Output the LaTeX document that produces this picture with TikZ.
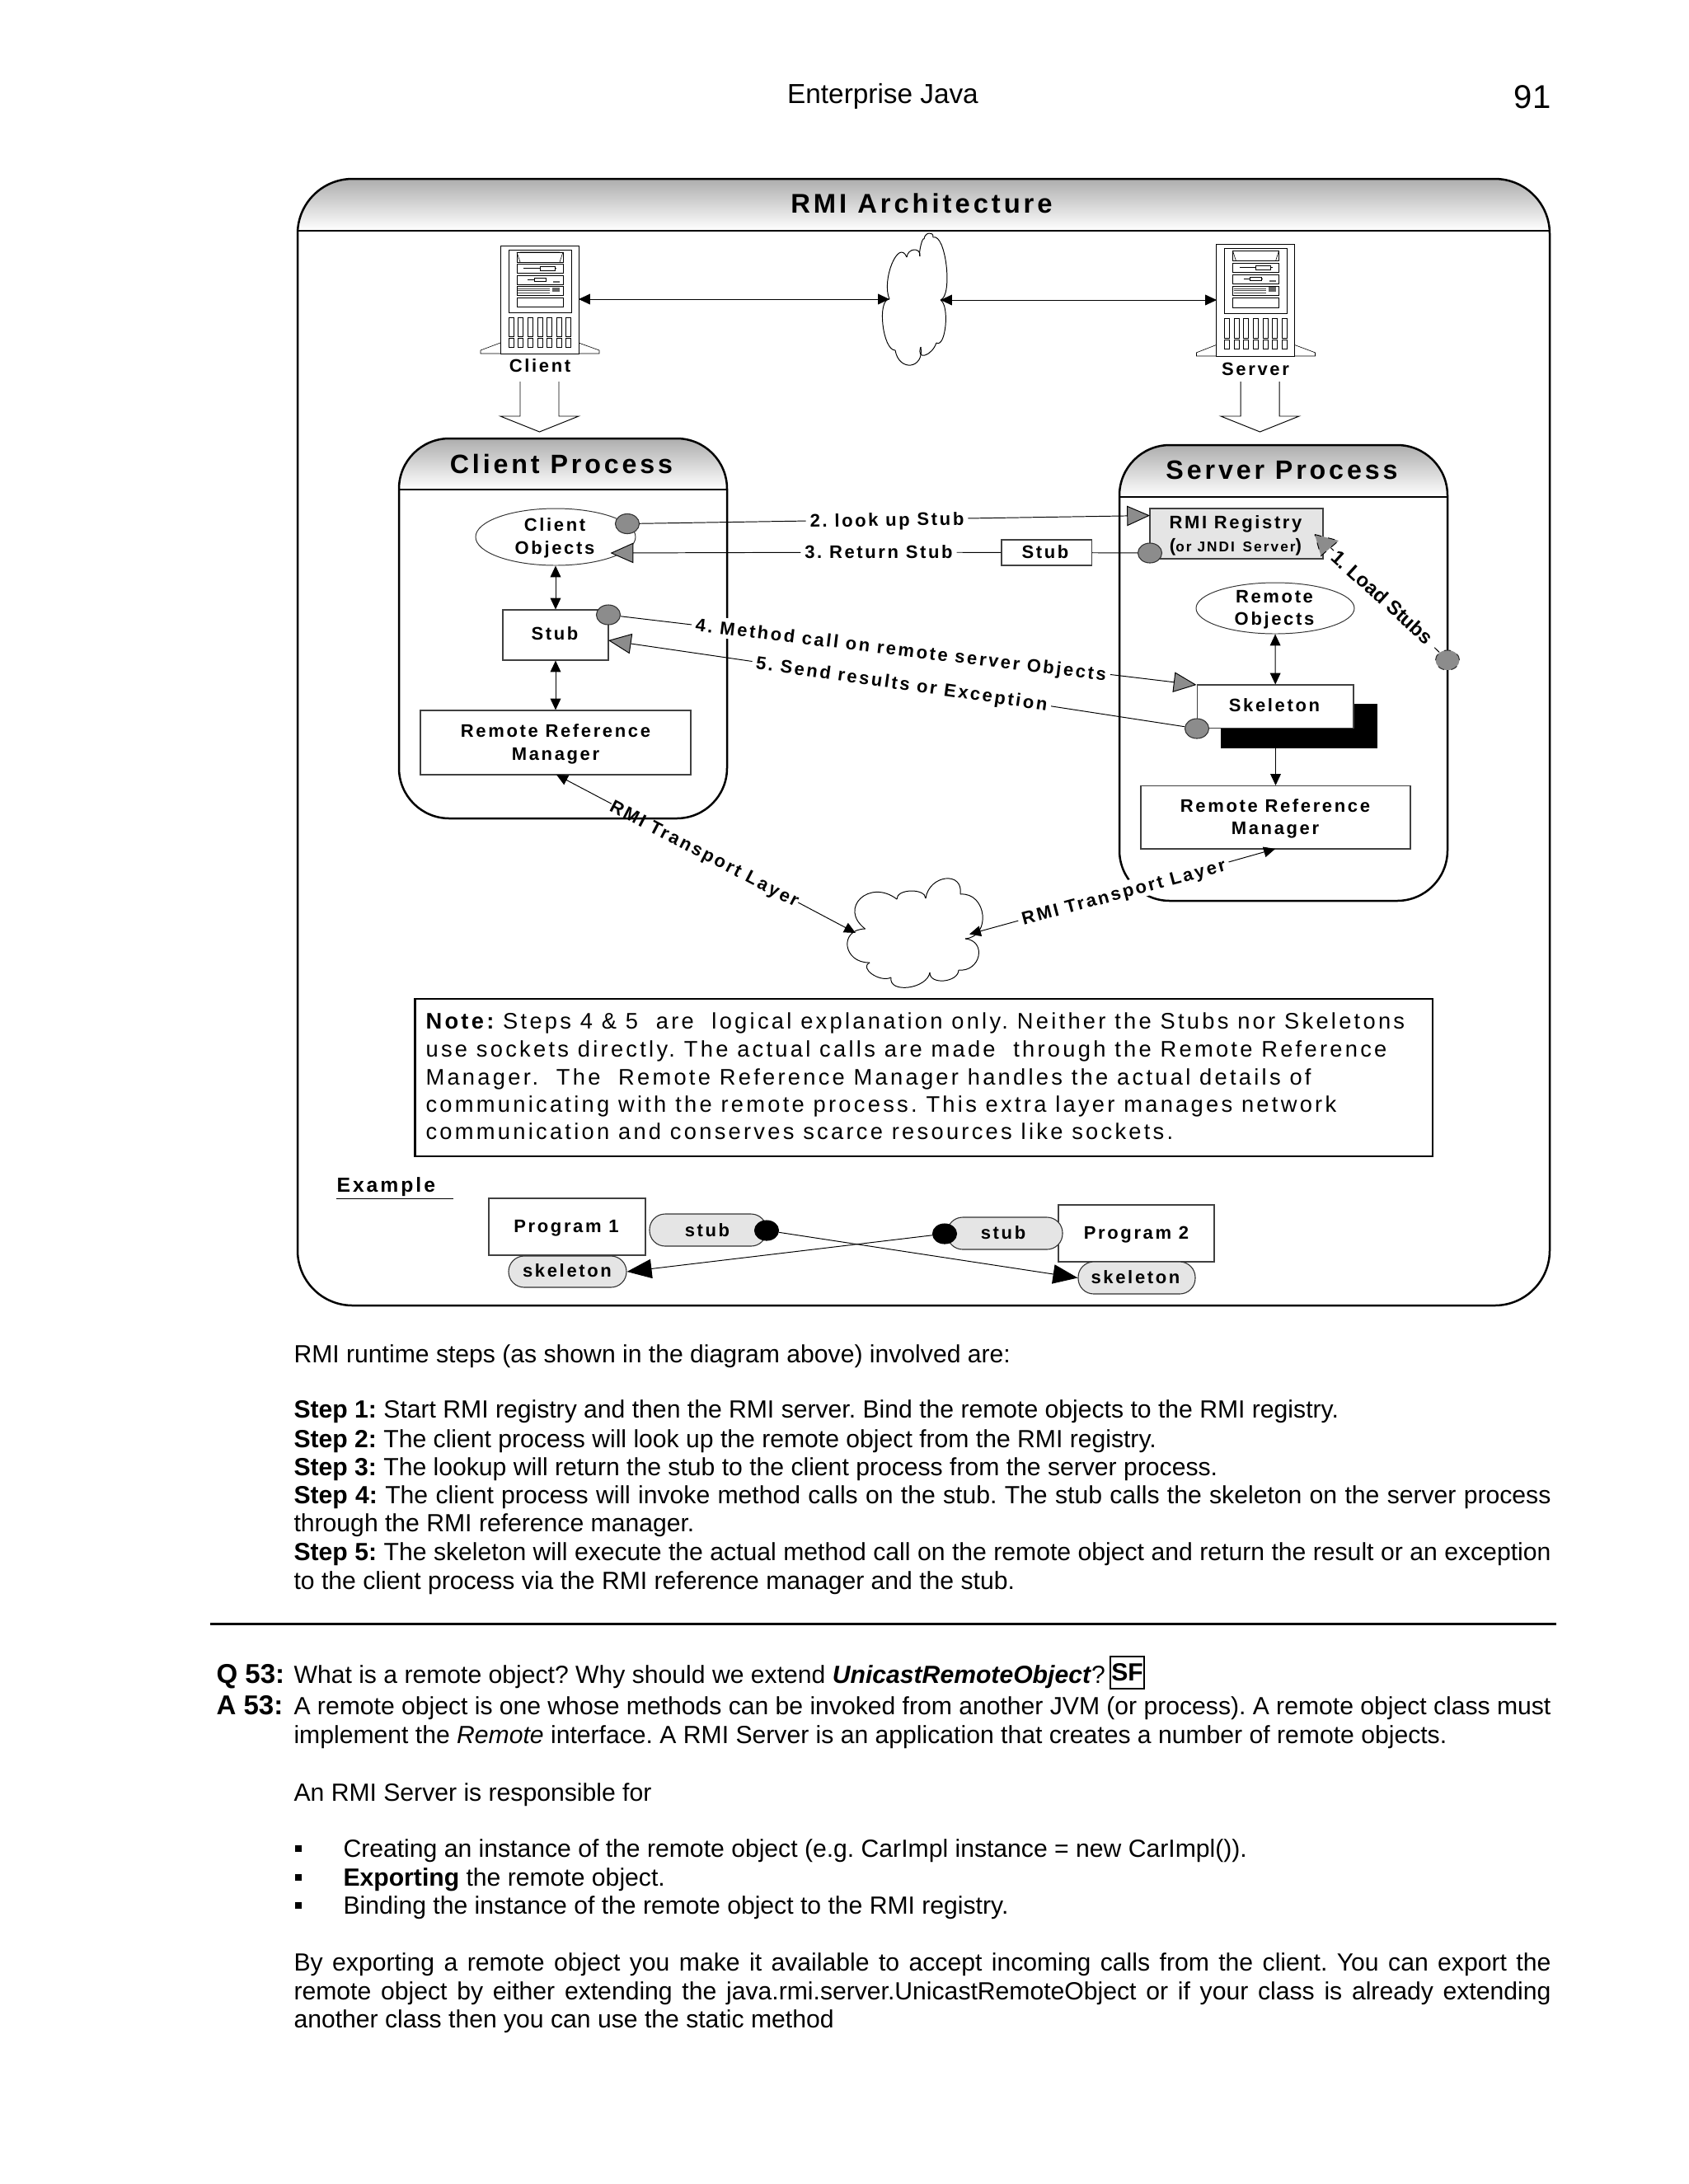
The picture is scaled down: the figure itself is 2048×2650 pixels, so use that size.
\documentclass[tikz,border=0pt]{standalone}
\usepackage{fontspec}
\setmainfont{Liberation Sans}
\newfontfamily\lsfont[LetterSpace=12]{Liberation Sans}
\newfontfamily\notefont[LetterSpace=12]{Liberation Sans}
\usetikzlibrary{arrows.meta,shapes.geometric,calc}
\definecolor{hdr}{gray}{0.68}
\definecolor{midg}{gray}{0.55}
\definecolor{lightg}{gray}{0.90}
\def\upx{0.36pt}
\tikzset{
  frame/.style={line width=0.9pt,draw=black},
  thinl/.style={line width=0.35pt,draw=black},
  hair/.style={line width=0.22pt,draw=black},
  blk/.tip={Triangle[length=5pt,width=4.6pt]},
  gtri/.tip={Triangle[length=10pt,width=8.8pt,fill=midg]},
  kt/.tip={Triangle[length=10.8pt,width=8.4pt]},
  lbl/.style={font=\lsfont\bfseries\fontsize{7.92pt}{9pt}\selectfont,inner sep=0pt,text height=5.7pt,text depth=0pt,align=center},
  bigl/.style={font=\lsfont\bfseries\fontsize{11.6pt}{13pt}\selectfont,inner sep=0pt,text height=8.3pt,text depth=0pt},
  wlbl/.style={lbl,fill=white,inner sep=1.6pt},
  bxs/.style={rectangle,draw=black!75,line width=0.4pt,inner sep=0pt,fill=white},
  ell/.style={ellipse,draw=black!80,line width=0.35pt,inner sep=0pt,fill=white},
  gdot/.style={ellipse,draw=black!80,line width=0.4pt,inner sep=0pt,fill=midg,minimum width=29*\upx,minimum height=24*\upx},
  kdot/.style={ellipse,draw=black,fill=black,inner sep=0pt,minimum width=29*\upx,minimum height=24*\upx},
  pill/.style={rectangle,rounded corners=6.8pt,draw=black!80,line width=0.4pt,inner sep=0pt,fill=lightg},
  body/.style={font=\fontsize{10.85pt}{12pt}\selectfont,inner sep=0pt,anchor=base west},
  big/.style={font=\fontsize{11.9pt}{13pt}\selectfont\bfseries,inner sep=0pt,anchor=base west},
  notel/.style={font=\notefont\fontsize{9.82pt}{12pt}\selectfont,inner sep=0pt,anchor=base west},
}
\newcommand\bx[6]{% name,x1,y1,x2,y2,style
  \pgfmathsetmacro\cxx{(#2+#4)/2}\pgfmathsetmacro\cyy{(#3+#5)/2}
  \pgfmathsetmacro\ww{(#4-#2)*0.36}\pgfmathsetmacro\hh{(#5-#3)*0.36}
  \node[#6,minimum width=\ww pt,minimum height=\hh pt] (#1) at (\cxx,\cyy) {};}
\newcommand\panel[6]{% x1,y1,ymid,x2,y2,radius
  \begin{scope}
    \clip[rounded corners=#6] (#1,#2) rectangle (#4,#5);
    \shade[top color=hdr,bottom color=white] (#1,#2) rectangle (#4,#3);
  \end{scope}
  \draw[frame,rounded corners=#6] (#1,#2) rectangle (#4,#5);
  \draw[frame] (#1,#3) -- (#4,#3);}
\newcommand\cloud[1]{\foreach \ax/\ay/\px/\py/\bx/\by in {#1}{
  \pgfmathsetmacro\dx{4/3*(\px-(\ax+\bx)/2)}
  \pgfmathsetmacro\dy{4/3*(\py-(\ay+\by)/2)}
  \draw[thinl] (\ax,\ay) .. controls ($(\ax,\ay)+(\dx,\dy)$) and ($(\bx,\by)+(\dx,\dy)$) .. (\bx,\by);}}
\newcommand\tower[3]{% cx, top, yscale
  \begin{scope}[shift={(#1,#2)},yscale=#3,hair]
    \draw (-48,118) -- (-72,127) -- (-72,131) -- (72,131) -- (72,127) -- (47,118);
    \draw[thinl,fill=white] (-48,0) rectangle (47,131);
    \draw (-38,5) rectangle (38,81);
    \draw (-28,8) rectangle (28,20);
    \draw (-28,8) -- (-24,20) (28,8) -- (24,20) (-24,8) -- (24,8);
    \draw (-28,22) rectangle (28,33);
    \draw (-20,27.5) -- (20,27.5);
    \draw[fill=white] (0,25) rectangle (18,30);
    \draw (-28,36) rectangle (28,47);
    \draw (-15,41) -- (8,41);
    \draw[fill=white] (-7,39) rectangle (7,43);
    \fill[black!60] (16,42.5) rectangle (24,44.5);
    \draw (-28,49) rectangle (28,60);
    \foreach \yy in {52,54.5,57} {\draw[black!70] (-27,\yy) -- (12,\yy);}
    \fill[black!60] (15,50.5) rectangle (24,56);
    \draw (-28,63) rectangle (28,74);
    \foreach \i in {0,...,6} {
      \draw ({-38+\i*11.6},87) rectangle ({-32+\i*11.6},110);
      \draw ({-38+\i*11.6},112) rectangle ({-32+\i*11.6},123);
    }
  \end{scope}}
\newcommand\blockarrow[6]{% x1 x2 ytop yneck hl hr (tip computed)
  \draw[thinl] (#1,#3) -- (#1,#4) -- (#5,#4) -- ({(#5+#6)/2},{#4+19}) -- (#6,#4) -- (#2,#4) -- (#2,#3);}
\newcommand\jl[3]{\node[body] at (#1,#2) {\makebox[549pt][s]{#3}};}
\newcommand\nl[3]{\node[body] at (#1,#2) {#3};}
\begin{document}
\frenchspacing
\begin{tikzpicture}[x=0.36pt,y=-0.36pt]
\useasboundingbox (0,0) rectangle (2048,2650);
\fill[white] (0,0) rectangle (2048,2650);
% page header
\node[font=\fontsize{12pt}{13pt}\selectfont,inner sep=0pt] (hdrtitle) at (1071,117) {Enterprise Java};
\node[font=\fontsize{14.4pt}{15pt}\selectfont,inner sep=0pt] (pageno) at (1859,118) {91};
% outer
\panel{361}{217}{280}{1880}{1584}{24pt}
\node[font=\lsfont\bfseries\fontsize{11.8pt}{13pt}\selectfont,inner sep=0pt] (maintitle) at (1118,247) {RMI Architecture};
% towers
\tower{655}{298}{1}
\tower{1523.5}{296}{1.038}
\node[lbl] (clientl) at (655,444) {Client};
\node[lbl] (serverl) at (1523,448) {Server};
\blockarrow{631}{678}{463}{505}{607}{702}
\blockarrow{1505}{1552}{463}{505}{1481}{1576}
% cloud 1
\coordinate (cl1w) at (1079,363);
\coordinate (cl1e) at (1141,364);
\coordinate (towc) at (702,363);
\coordinate (tows) at (1476,364);
\cloud{1116/311/1109/303/1100/312, 1100/312/1082/320/1079/363, 1079/363/1071/394/1086/425, 1086/425/1105/443/1117/421, 1117/421/1122/431/1136/416, 1136/416/1147/395/1141/364, 1141/364/1148/322/1132/288, 1132/288/1127/283/1121/290, 1121/290/1117/298/1116/311}
\draw[thinl,{blk}-{blk}] (towc) -- (cl1w);
\draw[thinl,{blk}-{blk}] (cl1e) -- (tows);
% process boxes
\panel{484}{532}{594}{882}{993}{22pt}
\panel{1358}{540}{603}{1756}{1093}{22pt}
\node[bigl] (cpt) at (681,563) {Client Process};
\node[bigl] (spt) at (1555,570) {Server Process};
% client content
\node[ell,minimum width=194*\upx,minimum height=69*\upx] (cobj) at (674,651.5) {};
\node[lbl] (cobj1) at (673,637) {Client};
\node[lbl] (cobj2) at (673,665) {Objects};
\bx{stubc}{610}{740}{738}{801}{bxs}
\node[lbl] (stubcl) at (673,769) {Stub};
\bx{rrmc}{510}{862}{838}{940}{bxs}
\node[lbl] (rrmc1) at (674,887) {Remote Reference};
\node[lbl] (rrmc2) at (674,915) {Manager};
\draw[thinl,{blk}-{blk}] (cobj) -- (stubc);
\draw[thinl,{blk}-{blk}] (stubc) -- (rrmc);
% server content
\bx{rmi}{1395}{617}{1605}{678}{bxs,fill=lightg}
\node[lbl] (rmi1) at (1499,634) {RMI Registry};
\node[lbl,font=\lsfont\bfseries\fontsize{6.2pt}{7pt}\selectfont] (rmi2) at (1499,662) {{\fontsize{8pt}{9pt}\selectfont(}or JNDI\, Server{\fontsize{8pt}{9pt}\selectfont)}};
\node[ell,minimum width=192*\upx,minimum height=62*\upx] (robj) at (1547,738) {};
\node[lbl] (robj1) at (1546,724) {Remote};
\node[lbl] (robj2) at (1546,751) {Objects};
\fill[black] (1481,854) rectangle (1671,908);
\coordinate (shadowb) at (1547.5,908);
\bx{skel}{1452.5}{831}{1642}{883.5}{bxs}
\node[lbl] (skell) at (1546,856) {Skeleton};
\bx{rrms}{1384}{953.5}{1711}{1030}{bxs}
\node[lbl] (rrms1) at (1547,977.6) {Remote Reference};
\node[lbl] (rrms2) at (1547,1005) {Manager};
\draw[thinl,{blk}-{blk}] (robj) -- (skel);
\draw[thinl,-{blk}] (shadowb) -- (rrms);
% connector dots
\node[gdot] (dot2) at (761,635.5) {};
\node[gdot] (dot3) at (1395,671) {};
\node[gdot] (dot4) at (738,746) {};
\node[gdot] (dot5) at (1452,884) {};
\node[gdot,dashed] (dot1) at (1756,801) {};
\coordinate (tip2) at (1395,625.5);
\coordinate (tip3) at (740.5,671);
\coordinate (tip4) at (1451.5,831);
\coordinate (tip5) at (738,777);
\coordinate (tip1) at (1597,648);
% 2
\node[wlbl,rotate=0.9] (l2) at (1076,630.5) {2. look up Stub};
\draw[thinl] (dot2) -- (l2);
\draw[thinl,-{gtri}] (l2) -- (tip2);
% 3
\bx{stubm}{1215}{655}{1324.5}{686}{bxs}
\node[lbl] (stubml) at (1268,670) {Stub};
\node[wlbl] (l3) at (1066,670) {3. Return Stub};
\draw[thinl] (dot3) -- (stubm);
\draw[thinl] (stubm) -- (l3);
\draw[thinl,-{gtri}] (l3) -- (tip3);
% 4
\node[wlbl,rotate=-6.9] (l4) at (1093,788) {4. Method call on remote server Objects};
\draw[thinl] (dot4) -- (l4);
\draw[thinl,-{gtri}] (l4) -- (tip4);
% 5
\node[wlbl,rotate=-8.2] (l5) at (1094,829) {5. Send results or Exception};
\draw[thinl] (dot5) -- (l5);
\draw[thinl,-{gtri}] (l5) -- (tip5);
% 1
\node[font=\bfseries\fontsize{8.6pt}{10pt}\selectfont,inner sep=1pt,fill=white,rotate=-42] (l1) at (1677,724.5) {1. Load Stubs};
\draw[thinl,dashed] (dot1) -- (l1);
\draw[thinl,dashed] (l1) -- (tip1);
\draw[thinl,dashed,fill=midg] (1595,648.5) -- (1624,656) -- (1602.5,674.5) -- cycle;
% cloud 2
\cloud{1049.5/1127/1044/1090/1088/1091, 1088/1091/1105/1081/1123/1090, 1123/1090/1147/1066/1165/1085, 1165/1085/1192/1110/1171/1139, 1171/1139/1187/1160/1163/1177, 1163/1177/1145/1190/1128/1180, 1128/1180/1102/1198/1081/1186, 1081/1186/1058/1182/1055/1168, 1055/1168/1028/1148/1049.5/1127}
\coordinate (cl2w) at (1038,1132);
\coordinate (cl2e) at (1176,1133.5);
\coordinate (rrmcb) at (675,940);
\coordinate (rrmsb) at (1547,1030);
\node[lbl,rotate=-27.5] (tl1) at (855,1035) {RMI Transport Layer};
\draw[thinl,-{blk}] (tl1) -- (rrmcb);
\draw[thinl,-{blk}] (tl1) -- (cl2w);
\node[wlbl,rotate=15] (tl2) at (1363,1082) {RMI Transport Layer};
\draw[thinl,-{blk}] (tl2) -- (cl2e);
\draw[thinl,-{blk}] (tl2) -- (rrmsb);
% note
\node[draw=black,line width=0.9pt,inner sep=0pt,minimum width=1234.4*\upx,minimum height=191*\upx] (notebox) at (1120.8,1307.5) {};
\node[notel] (n1) at (516,1248) {{\bfseries Note:} Steps 4 \& 5\ \ are\ \ logical explanation only. Neither the Stubs nor Skeletons};
\node[notel] (n2) at (516,1282) {use sockets directly. The actual calls are made\ \ through the Remote Reference};
\node[notel] (n3) at (516,1316) {Manager.\ \ The\ \ Remote Reference Manager handles the actual details of};
\node[notel] (n4) at (516,1349) {communicating with the remote process. This extra layer manages network};
\node[notel] (n5) at (516,1382) {communication and conserves scarce resources like sockets.};
% example
\node[lbl,anchor=west,font=\lsfont\bfseries\fontsize{8.9pt}{10pt}\selectfont] (ex) at (408,1439) {Example};
\coordinate (exa) at (408,1454);
\coordinate (exb) at (550,1454);
\draw[thinl] (exa) -- (exb);
\bx{p1}{593}{1454}{783}{1523}{bxs}
\node[lbl] (p1l) at (687,1488) {Program 1};
\bx{p2}{1284}{1462}{1473}{1531}{bxs}
\node[lbl] (p2l) at (1378.5,1496) {Program 2};
\bx{stub1}{788}{1473}{930}{1512}{pill}
\node[lbl] (stub1l) at (858,1493) {stub};
\bx{stub2}{1149}{1477}{1289}{1516}{pill}
\node[lbl] (stub2l) at (1217,1496) {stub};
\bx{sk1}{617}{1524}{760}{1562}{pill}
\node[lbl] (sk1l) at (688,1542) {skeleton};
\bx{sk2}{1308}{1531}{1450}{1570}{pill}
\node[lbl] (sk2l) at (1377.5,1550) {skeleton};
\node[kdot] (kd1) at (930,1493) {};
\node[kdot] (kd2) at (1146,1497) {};
\draw[thinl,-{kt}] (kd1) -- (sk2.west);
\draw[thinl,-{kt}] (kd2) -- (sk1.east);
% body text
\nl{356}{1653}{RMI runtime steps (as shown in the diagram above) involved are:}
\nl{356}{1720}{\textbf{Step 1:} Start RMI registry and then the RMI server. Bind the remote objects to the RMI registry.}
\nl{356}{1756}{\textbf{Step 2:} The client process will look up the remote object from the RMI registry.}
\nl{356}{1790}{\textbf{Step 3:} The lookup will return the stub to the client process from the server process.}
\jl{356}{1824}{\textbf{Step 4:} The client process will invoke method calls on the stub. The stub calls the skeleton on the server process}
\nl{356}{1858}{through the RMI reference manager.}
\jl{356}{1893}{\textbf{Step 5:} The skeleton will execute the actual method call on the remote object and return the result or an exception}
\nl{356}{1928}{to the client process via the RMI reference manager and the stub.}
\coordinate (rula) at (255,1970.5);
\coordinate (rulb) at (1888,1970.5);
\draw[frame] (rula) -- (rulb);
\node[big] (q53) at (262,2042) {Q 53:};
\nl{356}{2042}{What is a remote object? Why should we extend \textbf{\textit{UnicastRemoteObject}}?}
\node[draw=black,line width=0.5pt,inner sep=0pt,minimum width=41*\upx,minimum height=39*\upx,font=\fontsize{10.85pt}{12pt}\selectfont\bfseries] (sf) at (1367.5,2029.5) {SF};
\node[big] (a53) at (262,2080) {A 53:};
\jl{356}{2080}{A remote object is one whose methods can be invoked from another JVM (or process). A remote object class must}
\nl{356}{2115}{implement the \textit{Remote} interface. A RMI Server is an application that creates a number of remote objects.}
\nl{356}{2185}{An RMI Server is responsible for}
\foreach \yy/\nm in {2243/b1,2278/b2,2312/b3} {\node[fill=black,inner sep=0pt,minimum size=8*\upx] (\nm) at (362,\yy) {};}
\nl{416}{2253}{Creating an instance of the remote object (e.g. CarImpl instance = new CarImpl()).}
\nl{416}{2288}{\textbf{Exporting} the remote object.}
\nl{416}{2322}{Binding the instance of the remote object to the RMI registry.}
\jl{356}{2391}{By exporting a remote object you make it available to accept incoming calls from the client. You can export the}
\jl{356}{2426}{remote object by either extending the java.rmi.server.UnicastRemoteObject or if your class is already extending}
\nl{356}{2460}{another class then you can use the static method}
\end{tikzpicture}
\end{document}
